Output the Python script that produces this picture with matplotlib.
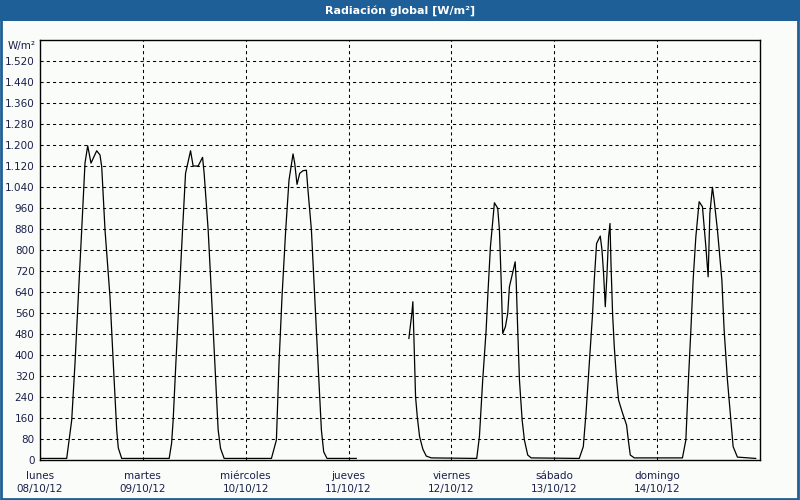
"""
Radiacion global, semana 08/10/12 - 14/10/12 (estilo panel de estacion meteo).
"""
import matplotlib
matplotlib.use("Agg")
import matplotlib.pyplot as plt
from matplotlib.patches import Rectangle
from matplotlib.ticker import FuncFormatter

BLUE = "#1d5f96"
BG = "#fafcfa"
NAVY = "#1a1f4a"

day_names = ["lunes", "martes", "miércoles", "jueves", "viernes", "sábado", "domingo"]
day_dates = ["08/10/12", "09/10/12", "10/10/12", "11/10/12", "12/10/12", "13/10/12", "14/10/12"]

# horas desde lunes 00:00 ; tramo 1 (lunes -> madrugada del jueves)
hours_a = [0.0, 6.23, 7.4, 8.17, 8.94, 9.73, 10.5, 11.13, 11.9, 13.23, 14.0, 14.4,
           15.17, 16.33, 17.1, 17.9, 18.27, 19.06,
           30.14, 30.7, 31.07, 31.7, 32.47, 33.26, 33.96, 35.13, 35.73, 36.9, 37.93,
           38.3, 39.24, 40.03, 40.8, 41.57, 42.13, 42.97,
           54.0, 54.53, 55.16, 55.77, 56.47, 57.33, 58.1, 59.04, 59.43, 59.97, 60.6,
           61.37, 62.16, 62.53, 63.33, 64.1, 64.87, 65.66, 66.2, 66.97, 73.8]
rad_a = [6, 6, 152, 369, 622, 876, 1131, 1197, 1131, 1178, 1162, 1117,
         876, 622, 369, 114, 46, 6,
         6, 63, 152, 368, 622, 876, 1092, 1178, 1120, 1120, 1153,
         1092, 876, 622, 368, 114, 44, 6,
         6, 38, 76, 368, 622, 876, 1066, 1166, 1131, 1050, 1092,
         1102, 1104, 1028, 876, 622, 368, 114, 31, 6, 6]

# tramo 2 (jueves tarde -> domingo)
hours_b = [86.07, 86.77, 87.0, 87.24, 87.63, 88.03, 88.57, 89.34, 90.13, 91.3,
           101.9, 102.53, 103.3, 104.1, 104.47, 105.1, 106.03, 106.8, 107.2, 107.6,
           107.97, 108.6, 109.14, 109.53, 110.07, 110.87, 111.1, 111.47, 111.87,
           112.5, 113.03, 113.8, 114.6,
           125.83, 126.77, 127.4, 128.17, 128.94, 129.33, 129.87, 130.73, 131.13,
           131.5, 131.9, 132.3, 132.67, 133.0, 133.23, 133.6, 134.0, 134.54, 135.0,
           135.94, 136.87, 137.27, 137.73, 138.67,
           149.9, 150.7, 151.3, 151.87, 152.4, 153.03, 153.8, 154.57, 155.37, 155.9,
           156.3, 156.9, 157.3, 158.07, 159.1, 159.63, 160.4, 161.2, 161.73, 162.73, 167.0]
rad_b = [463, 559, 603, 470, 241, 165, 89, 41, 15, 8,
         6, 89, 305, 495, 622, 812, 980, 959, 876, 686,
         482, 508, 559, 660, 698, 755, 686, 495, 305,
         152, 76, 19, 8,
         6, 51, 178, 368, 559, 686, 825, 853, 800,
         711, 584, 711, 850, 901, 749, 559, 431, 305, 228,
         178, 133, 76, 19, 8,
         8, 76, 305, 495, 686, 850, 984, 965, 812, 698,
         939, 1039, 990, 876, 686, 495, 305, 152, 51, 11, 6]

fig = plt.figure(figsize=(8, 5), dpi=100, facecolor=BG)
ax = fig.add_axes([0.05, 0.08, 0.90, 0.84], facecolor=BG)

grid_kw = dict(color="black", lw=0.75, ls=(0, (3, 3)), zorder=1)
for v in range(80, 1600, 80):
    ax.axhline(v, **grid_kw)
for d in range(1, 7):
    ax.axvline(d * 24, **grid_kw)

ax.plot(hours_a, rad_a, color="black", lw=0.9, zorder=3)
ax.plot(hours_b, rad_b, color="black", lw=0.9, zorder=3)

ax.set_xlim(0, 168)
ax.set_ylim(0, 1600)
ax.set_yticks(range(0, 1600, 80))
ax.yaxis.set_major_formatter(FuncFormatter(lambda v, p: f"{v:,.0f}".replace(",", ".")))
ax.set_xticks([d * 24 for d in range(7)])
ax.set_xticklabels([f"{n}\n{d}" for n, d in zip(day_names, day_dates)], linespacing=1.35)
ax.tick_params(length=0, labelsize=7.5, labelcolor=NAVY)
ax.tick_params(axis="y", pad=4)
ax.tick_params(axis="x", pad=8)
for s in ax.spines.values():
    s.set_color("black"); s.set_linewidth(1.0)

fig.text(36 / 800, 1 - 46 / 500, "W/m²", ha="right", va="center",
         fontsize=7.5, color=NAVY)

# barra de titulo y marco azul
fig.patches.append(Rectangle((0, 1 - 21 / 500), 1, 21 / 500, transform=fig.transFigure,
                             fc=BLUE, ec="none", zorder=0))
fig.patches.append(Rectangle((0.001, 0.003), 0.997, 0.994, transform=fig.transFigure,
                             fc="none", ec=BLUE, lw=2.0, zorder=0))
fig.text(0.5, 1 - 10.5 / 500, "Radiación global [W/m²]", ha="center", va="center",
         fontsize=8, fontweight="bold", color="white")

fig.savefig("out.png", dpi=100, facecolor=BG)
